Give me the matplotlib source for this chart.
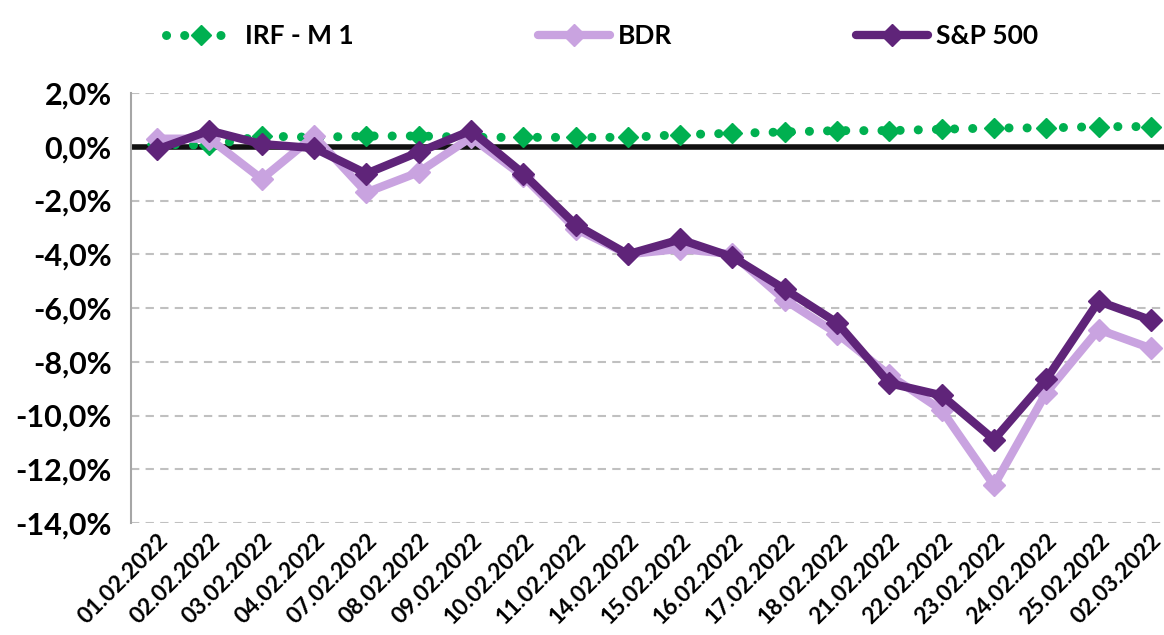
import matplotlib.pyplot as plt
from matplotlib.ticker import FuncFormatter

dates = ['01.02.2022', '02.02.2022', '03.02.2022', '04.02.2022', '07.02.2022',
         '08.02.2022', '09.02.2022', '10.02.2022', '11.02.2022', '14.02.2022',
         '15.02.2022', '16.02.2022', '17.02.2022', '18.02.2022', '21.02.2022',
         '22.02.2022', '23.02.2022', '24.02.2022', '25.02.2022', '02.03.2022']
irf = [0.1, 0.05, 0.4, 0.35, 0.4, 0.4, 0.35, 0.35, 0.35, 0.35,
       0.45, 0.5, 0.55, 0.6, 0.6, 0.65, 0.7, 0.7, 0.75, 0.75]
bdr = [0.3, 0.3, -1.2, 0.4, -1.7, -0.95, 0.35, -1.1, -3.05, -4.0,
       -3.8, -4.0, -5.7, -6.95, -8.5, -9.8, -12.6, -9.15, -6.8, -7.5]
sp500 = [-0.1, 0.6, 0.1, -0.05, -1.0, -0.2, 0.6, -1.0, -2.9, -4.0,
         -3.45, -4.1, -5.3, -6.55, -8.8, -9.25, -10.9, -8.65, -5.75, -6.45]

plt.rcParams['font.family'] = ['Lato', 'DejaVu Sans']
plt.rcParams['font.weight'] = 'bold'

fig = plt.figure(figsize=(11.64, 6.35), dpi=100)
W, H = 1164, 635
ax = fig.add_axes([131 / W, 1 - 523 / H, (W - 131) / W, (523 - 93) / H])

x = list(range(len(dates)))

ax.axhline(0, color='#111111', lw=4, zorder=2)

ax.plot(x, irf, color='#00B050', lw=6.5, linestyle=(0, (0.01, 2.0)),
        dash_capstyle='round', marker='D', markersize=10, label='IRF - M 1', zorder=3)
ax.plot(x, bdr, color='#C9A3E0', lw=6, marker='D', markersize=11,
        solid_capstyle='round', label='BDR', zorder=4)
ax.plot(x, sp500, color='#5F2479', lw=6, marker='D', markersize=11,
        solid_capstyle='round', label='S&P 500', zorder=5)

ax.set_ylim(-14, 2)
ax.set_yticks(range(-14, 3, 2))
ax.yaxis.set_major_formatter(FuncFormatter(lambda v, p: f'{v:.1f}%'.replace('.', ',')))
ax.set_xlim(-0.5, 19.25)
ax.set_xticks(x)
ax.set_xticklabels(dates, rotation=45, ha='right', rotation_mode='anchor', fontsize=16.5)
ax.tick_params(axis='y', labelsize=22, length=0, pad=14)
ax.tick_params(axis='x', length=0, pad=5)

ax.grid(axis='y', color='#C0C0C0', linestyle=(0, (4, 3)), lw=1.5, zorder=0)
for s in ['top', 'right', 'bottom']:
    ax.spines[s].set_visible(False)
ax.spines['left'].set_color('#A6A6A6')
ax.spines['left'].set_linewidth(1.5)

fig.legend(loc='upper center', bbox_to_anchor=(0.517, 1.0), ncol=3, frameon=False,
           fontsize=19, handlelength=2.7, columnspacing=7.0, handletextpad=0.3)

fig.savefig('out.png', dpi=100)
